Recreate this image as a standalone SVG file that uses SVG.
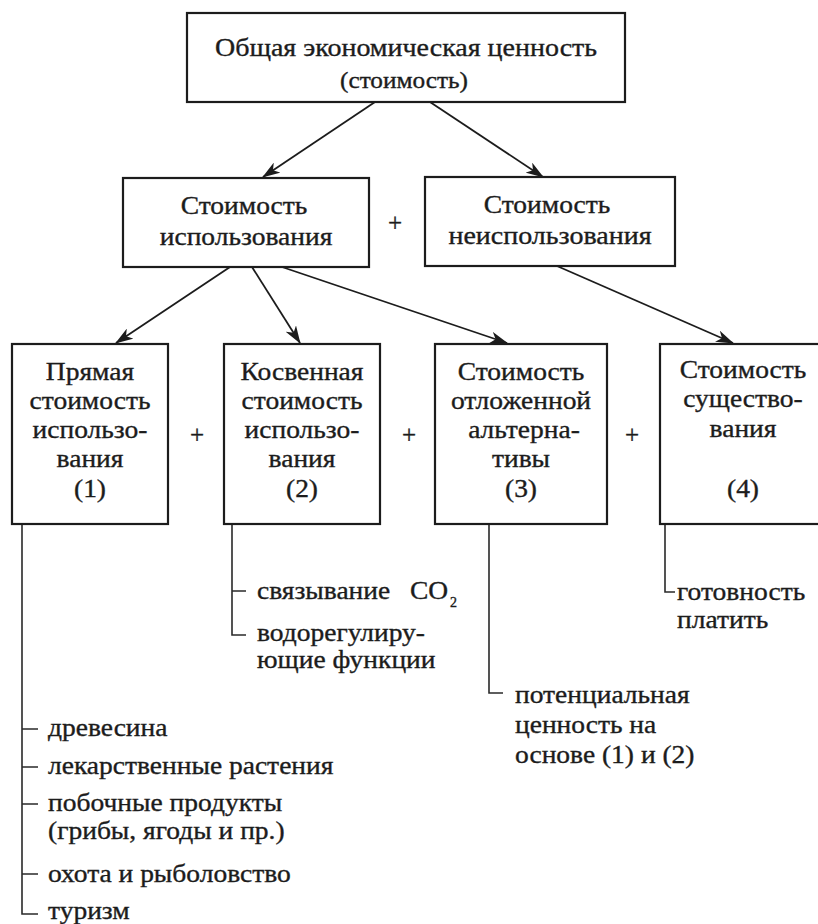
<svg xmlns="http://www.w3.org/2000/svg" width="818" height="924" viewBox="0 0 818 924">
<style>
text{font-family:"Liberation Serif","Times New Roman",serif;font-size:25px;fill:#1c1c1c;stroke:#1c1c1c;stroke-width:0.35}
.c{text-anchor:middle}
.box{fill:#fff;stroke:#1c1c1c;stroke-width:2.2}
.ln{fill:none;stroke:#1c1c1c;stroke-width:1.8}
.br{fill:none;stroke:#2a2a2a;stroke-width:1.6}
</style>
<defs>
<marker id="ah" viewBox="0 0 18 12" refX="17" refY="6" markerWidth="18" markerHeight="12" markerUnits="userSpaceOnUse" orient="auto">
<path d="M0,0 L18,6 L0,12 L5,6 z" fill="#1c1c1c"/>
</marker>
</defs>
<rect width="818" height="924" fill="#fff"/>
<g id="connectors">
<line class="ln" x1="375" y1="102" x2="263" y2="177" marker-end="url(#ah)"/>
<line class="ln" x1="430" y1="102" x2="543" y2="177" marker-end="url(#ah)"/>
<line class="ln" x1="230" y1="267" x2="116" y2="343" marker-end="url(#ah)"/>
<line class="ln" x1="252" y1="267" x2="300" y2="343" marker-end="url(#ah)"/>
<line class="ln" x1="282" y1="267" x2="507" y2="343" marker-end="url(#ah)"/>
<line class="ln" x1="557" y1="266" x2="733" y2="343" marker-end="url(#ah)"/>
<path class="br" d="M22,525 V914 H38 M22,729 H38 M22,767 H38 M22,804 H38 M22,874 H38"/>
<path class="br" d="M232,524 V635 H246 M232,591 H246"/>
<path class="br" d="M489,524 V693 H503"/>
<path class="br" d="M665,524 V592 H675"/>
</g>
<g id="n-total">
<rect class="box" x="187" y="13" width="438" height="89"/>
<text class="c" transform="translate(406 56) scale(1.12 1)">Общая экономическая ценность</text>
<text class="c" transform="translate(404 88) scale(1.1 1)" style="font-size:23px">(стоимость)</text>
</g>
<g id="n-use">
<rect class="box" x="123" y="178" width="246" height="89"/>
<text class="c" transform="translate(244 214) scale(1.1 1)">Стоимость</text>
<text class="c" transform="translate(246 245) scale(1.1 1)">использования</text>
</g>
<text class="c" x="395" y="231">+</text>
<g id="n-nonuse">
<rect class="box" x="425" y="177" width="250" height="89"/>
<text class="c" transform="translate(547 213) scale(1.1 1)">Стоимость</text>
<text class="c" transform="translate(550 244) scale(1.12 1)">неиспользования</text>
</g>
<g id="n-direct">
<rect class="box" x="12" y="344" width="156" height="180"/>
<text class="c" transform="translate(90 380) scale(1.1 1)">Прямая</text>
<text class="c" transform="translate(90 409) scale(1.1 1)">стоимость</text>
<text class="c" transform="translate(90 438) scale(1.1 1)">использо-</text>
<text class="c" transform="translate(90 467) scale(1.1 1)">вания</text>
<text class="c" transform="translate(90 497) scale(1.1 1)">(1)</text>
</g>
<text class="c" x="197" y="443">+</text>
<g id="n-indirect">
<rect class="box" x="224" y="344" width="156" height="180"/>
<text class="c" transform="translate(302 380) scale(1.1 1)">Косвенная</text>
<text class="c" transform="translate(302 409) scale(1.1 1)">стоимость</text>
<text class="c" transform="translate(302 438) scale(1.1 1)">использо-</text>
<text class="c" transform="translate(302 467) scale(1.1 1)">вания</text>
<text class="c" transform="translate(302 497) scale(1.1 1)">(2)</text>
</g>
<text class="c" x="409" y="443">+</text>
<g id="n-option">
<rect class="box" x="435" y="344" width="172" height="180"/>
<text class="c" transform="translate(521 380) scale(1.1 1)">Стоимость</text>
<text class="c" transform="translate(521 409) scale(1.1 1)">отложенной</text>
<text class="c" transform="translate(524 438) scale(1.1 1)">альтерна-</text>
<text class="c" transform="translate(521 467) scale(1.1 1)">тивы</text>
<text class="c" transform="translate(521 497) scale(1.1 1)">(3)</text>
</g>
<text class="c" x="632" y="443">+</text>
<g id="n-existence">
<rect class="box" x="660" y="344" width="170" height="180"/>
<text class="c" transform="translate(743 378) scale(1.1 1)">Стоимость</text>
<text class="c" transform="translate(743 407) scale(1.1 1)">существо-</text>
<text class="c" transform="translate(743 437) scale(1.1 1)">вания</text>
<text class="c" transform="translate(743 497) scale(1.1 1)">(4)</text>
</g>
<g id="list-direct">
<text transform="translate(48 736) scale(1.1 1)">древесина</text>
<text transform="translate(48 774) scale(1.1 1)">лекарственные растения</text>
<text transform="translate(48 811) scale(1.1 1)">побочные продукты</text>
<text transform="translate(48 839) scale(1.1 1)">(грибы, ягоды и пр.)</text>
<text transform="translate(48 882) scale(1.1 1)">охота и рыболовство</text>
<text transform="translate(48 919) scale(1.1 1)">туризм</text>
</g>
<g id="list-indirect">
<text transform="translate(257 599) scale(1.1 1)">связывание</text>
<text transform="translate(410 599) scale(1.1 1)">CO</text>
<text x="450" y="607" style="font-size:14px">2</text>
<text transform="translate(257 641) scale(1.1 1)">водорегулиру-</text>
<text transform="translate(257 668) scale(1.1 1)">ющие функции</text>
</g>
<g id="list-option">
<text transform="translate(515 703) scale(1.1 1)">потенциальная</text>
<text transform="translate(515 733) scale(1.1 1)">ценность на</text>
<text transform="translate(515 763) scale(1.1 1)">основе (1) и (2)</text>
</g>
<g id="list-existence">
<text transform="translate(677 600) scale(1.1 1)">готовность</text>
<text transform="translate(677 628) scale(1.1 1)">платить</text>
</g>
</svg>
